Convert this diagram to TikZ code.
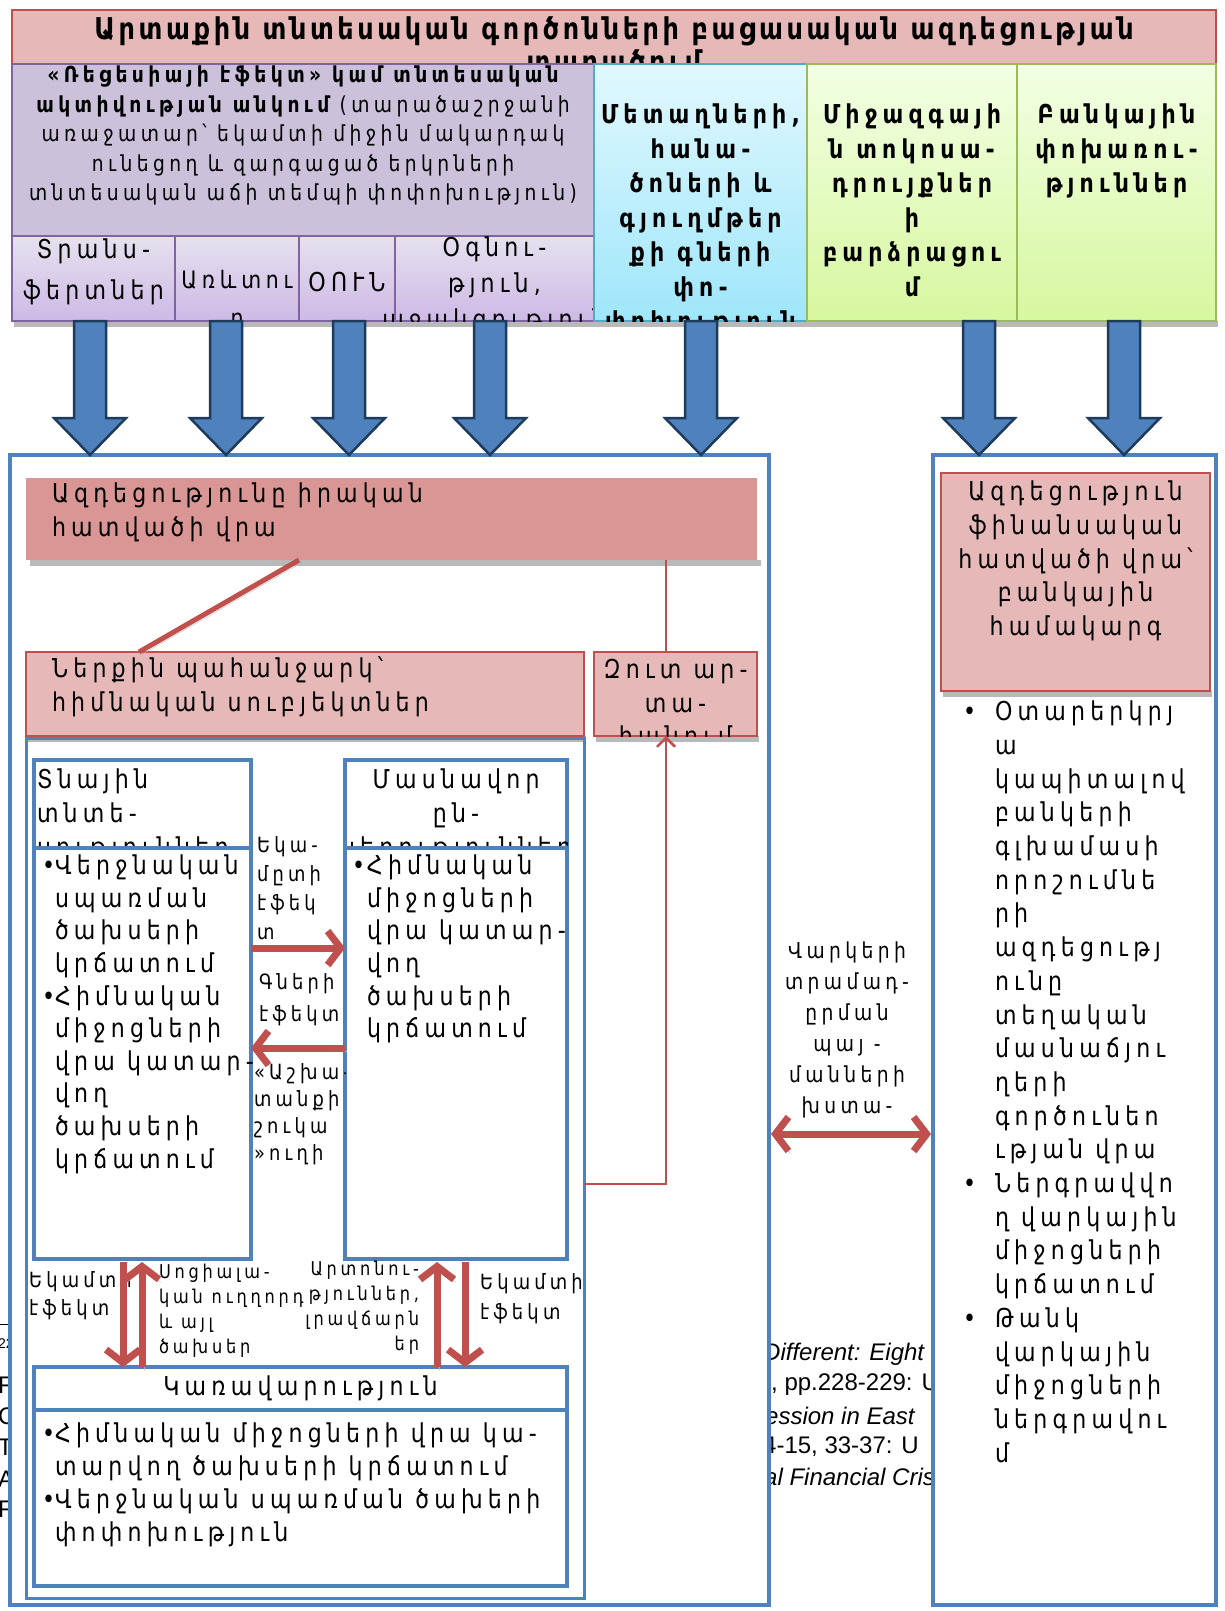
\documentclass[tikz,border=0pt]{standalone}
\usepackage{fontspec}
\setmainfont{DejaVu Sans}[FakeStretch=0.85,LetterSpace=20]
\newfontfamily\titlefont{DejaVu Sans}[FakeStretch=0.85,LetterSpace=12]
\newfontfamily\reffont{Liberation Sans}
\usetikzlibrary{arrows.meta,calc,positioning}
\definecolor{pinkfill}{HTML}{E6B9B8}
\definecolor{darkred}{HTML}{C0504D}
\definecolor{salmon}{HTML}{D99694}
\definecolor{lilac}{HTML}{CCC1DA}
\definecolor{lilacline}{HTML}{8064A2}
\definecolor{lilactop}{HTML}{E6E1EE}
\definecolor{lilacbot}{HTML}{CDB9E6}
\definecolor{cyantop}{HTML}{E1F8FE}
\definecolor{cyanbot}{HTML}{9FE6FA}
\definecolor{cyanline}{HTML}{4BACC6}
\definecolor{greentop}{HTML}{F2FFE4}
\definecolor{greenbot}{HTML}{D7F79F}
\definecolor{greenline}{HTML}{9BBB59}
\definecolor{boxblue}{HTML}{4F81BD}
\definecolor{navy}{HTML}{1F3B5C}
\newcommand{\itm}[1]{\llap{\makebox[#1][l]{•}}}

\begin{document}
\begin{tikzpicture}[x=1pt,y=-1pt,
  cell/.style={anchor=north west,inner sep=0pt,outer sep=0pt},
  lilaccell/.style={cell,draw=lilacline,line width=1.5pt,top color=lilactop,bottom color=lilacbot},
  bluebox/.style={cell,draw=boxblue,line width=3.5pt,fill=white},
  txt/.style={inner sep=0pt,outer sep=0pt,font=\fontsize{26}{33.7}\selectfont},
  boldtxt/.style={txt,align=center,anchor=north,font=\bfseries\fontsize{26}{34.5}\selectfont},
  lbl/.style={inner sep=0pt,outer sep=0pt,align=left,anchor=north west},
  redarrow/.style={draw=darkred,line width=7pt,-{Straight Barb[length=13pt,width=34pt]},
    preaction={draw=gray!55,transform canvas={shift={(2pt,-3pt)}}}},
  redboth/.style={redarrow,{Straight Barb[length=13pt,width=34pt]}-{Straight Barb[length=13pt,width=34pt]}},
  redline/.style={draw=darkred,line width=5pt,preaction={draw=gray!55,transform canvas={shift={(2pt,-3pt)}}}},
  thinred/.style={draw=darkred,line width=2.5pt},
  bigarrow/.style={fill=boxblue,draw=navy,line width=2.5pt}]
\useasboundingbox (0,0) rectangle (1224,1611);

%TEXT SHOWING THROUGH AT THE EDGES
\begin{scope}
\clip (0,1300) rectangle (10,1530);
\draw[line width=1pt] (0,1324) -- (12,1324);
\node[anchor=west,inner sep=0pt,font=\reffont\fontsize{14}{14}\selectfont] (fn) at (-2,1344) {22};
\foreach \ch/\yy in {F/1385,C/1416,T/1447,A/1479,F/1509}
  \node[anchor=west,inner sep=0pt,font=\reffont\fontsize{24}{24}\selectfont] at (-2,\yy) {\ch};
\end{scope}
\begin{scope}
\clip (769,1320) rectangle (933,1500);
\node[anchor=west,inner sep=0pt,font=\reffont\itshape\fontsize{24}{24}\selectfont] (cite1) at (763,1354) {Different: Eight};
\node[anchor=west,inner sep=0pt,font=\reffont\fontsize{24}{24}\selectfont] (cite2) at (771,1385) {, pp.228-229: U};
\node[anchor=west,inner sep=0pt,font=\reffont\itshape\fontsize{24}{24}\selectfont] (cite3) at (765,1416) {ession in East};
\node[anchor=west,inner sep=0pt,font=\reffont\fontsize{24}{24}\selectfont] (cite4) at (763,1447) {4-15, 33-37: U};
\node[anchor=west,inner sep=0pt,font=\reffont\itshape\fontsize{24}{24}\selectfont] (cite5) at (764,1477) {al Financial Crisis};
\end{scope}

%TOP ROW
\fill[gray!55] (14,321) rectangle (1218,327);
\node[cell,draw=darkred,line width=1.5pt,fill=pinkfill,minimum width=1204pt,minimum height=54pt] (title) at (12,10) {};
\begin{scope}
\clip (title.north west) rectangle (title.south east);
\node[anchor=north,align=center,inner sep=0pt,font=\titlefont\bfseries\fontsize{30}{33}\selectfont] (titletext)
  at ([yshift=-7pt]title.north) {Արտաքին տնտեսական գործոնների բացասական ազդեցության\\ տարածում};
\end{scope}
\node[cell,draw=lilacline,line width=1.5pt,fill=lilac,minimum width=582pt,minimum height=172pt] (recess) at (12,64) {};
\node[txt,align=center,anchor=north,font=\fontsize{22}{29.5}\selectfont] (recesstext) at ([yshift=-2pt]recess.north)
  {{\bfseries «Ռեցեսիայի էֆեկտ» կամ տնտեսական}\\ {\bfseries ակտիվության անկում} (տարածաշրջանի\\
   առաջատար՝ եկամտի միջին մակարդակ\\ ունեցող և զարգացած երկրների\\ տնտեսական աճի տեմպի փոփոխություն)};
\node[lilaccell,minimum width=163pt,minimum height=85pt] (transfer) at (12,236) {};
\node[lilaccell,minimum width=124pt,minimum height=85pt] (trade) at (175,236) {};
\node[lilaccell,minimum width=96pt,minimum height=85pt] (fdi) at (299,236) {};
\node[lilaccell,minimum width=199pt,minimum height=85pt] (aid) at (395,236) {};
\begin{scope}
\clip (transfer.north west) rectangle (aid.south east);
\node[txt,align=center,anchor=north,font=\fontsize{26}{41}\selectfont] (transfertext) at ([yshift=-3pt]transfer.north) {Տրանս-\\ ֆերտներ};
\node[txt,align=center,anchor=north,font=\fontsize{24}{38}\selectfont] (tradetext) at ([yshift=-34pt]trade.north) {Առևտու\\ ր};
\node[txt,align=center,anchor=north] (fditext) at ([yshift=-36pt]fdi.north) {ՕՈՒՆ};
\node[txt,align=center,anchor=north,font=\fontsize{26}{36}\selectfont] (aidtext) at ([yshift=-1pt]aid.north) {Օգնու-\\ թյուն,\\ աջակցություն};
\end{scope}
\node[cell,draw=cyanline,line width=1.5pt,top color=cyantop,bottom color=cyanbot,minimum width=213pt,minimum height=257pt] (metals) at (594,64) {};
\node[cell,draw=greenline,line width=1.5pt,top color=greentop,bottom color=greenbot,minimum width=210pt,minimum height=257pt] (rates) at (807,64) {};
\node[cell,draw=greenline,line width=1.5pt,top color=greentop,bottom color=greenbot,minimum width=199pt,minimum height=257pt] (loans) at (1017,64) {};
\begin{scope}
\clip (metals.north west) rectangle (loans.south east);
\node[boldtxt] (metalstext) at ([yshift=-40pt]metals.north) {Մետաղների,\\ հանա-\\ ծոների և\\ գյուղմթեր\\ քի գների\\ փո-\\ փոխություն};
\node[boldtxt] (ratestext) at ([yshift=-40pt]rates.north) {Միջազգայի\\ ն տոկոսա-\\ դրույքներ\\ ի\\ բարձրացու\\ մ};
\node[boldtxt] (loanstext) at ([yshift=-40pt]loans.north) {Բանկային\\ փոխառու-\\ թյուններ};
\end{scope}

%BIG BOXES
\node[bluebox,minimum width=759pt,minimum height=1150pt] (leftbig) at (10,455) {};
\node[bluebox,minimum width=283pt,minimum height=1150pt] (rightbig) at (933,455) {};

%REAL SECTOR
\fill[gray!55] (30,560) rectangle (761,566);
\node[cell,fill=salmon,minimum width=731pt,minimum height=82pt] (real) at (26,478) {};
\node[txt,align=left,anchor=north west] (realtext) at ([xshift=26pt,yshift=-5pt]real.north west) {Ազդեցությունը իրական\\ հատվածի վրա};

%DOMESTIC DEMAND AND NET EXPORT
\fill[gray!55] (28,736) rectangle (586,742);
\node[cell,draw=darkred,line width=1.5pt,fill=pinkfill,minimum width=558pt,minimum height=84pt] (demand) at (26,652) {};
\node[txt,align=left,anchor=north west] (demandtext) at ([xshift=26pt,yshift=-5pt]demand.north west) {Ներքին պահանջարկ՝\\ հիմնական սուբյեկտներ};
\fill[gray!55] (596,736) rectangle (759,742);
\node[cell,draw=darkred,line width=1.5pt,fill=pinkfill,minimum width=163pt,minimum height=84pt] (netexp) at (594,652) {};
\begin{scope}
\clip (netexp.north west) rectangle (netexp.south east);
\node[txt,align=center,anchor=north] (netexptext) at ([yshift=-7pt]netexp.north) {Զուտ ար-\\ տա-\\ հանում};
\end{scope}
\node[cell,draw=boxblue,line width=3pt,minimum width=558pt,minimum height=860pt] (inner) at (26,738) {};

%HOUSEHOLDS
\node[bluebox,minimum width=217pt,minimum height=88pt] (hhhead) at (34,760) {};
\begin{scope}
\clip (hhhead.north west) rectangle (hhhead.south east);
\node[txt,align=left,anchor=north west] (hhheadtext) at ([xshift=3pt,yshift=-9pt]hhhead.north west) {Տնային\\ տնտե-\\ սություններ};
\end{scope}
\node[bluebox,minimum width=217pt,minimum height=411pt] (hhbody) at (34,848) {};
\node[txt,align=left,anchor=north west,font=\fontsize{26}{32.6}\selectfont] (hhlist) at ([xshift=21pt,yshift=-7pt]hhbody.north west)
  {\itm{13pt}Վերջնական\\ սպառման\\ ծախսերի\\ կրճատում\\ \itm{13pt}Հիմնական\\ միջոցների\\ վրա կատար-\\ վող\\ ծախսերի\\ կրճատում};

%FIRMS
\node[bluebox,minimum width=222pt,minimum height=88pt] (firmhead) at (345,760) {};
\begin{scope}
\clip (firmhead.north west) rectangle (firmhead.south east);
\node[txt,align=center,anchor=north] (firmheadtext) at ([yshift=-9pt]firmhead.north) {Մասնավոր\\ ըն-\\ կերություններ};
\end{scope}
\node[bluebox,minimum width=222pt,minimum height=411pt] (firmbody) at (345,848) {};
\node[txt,align=left,anchor=north west,font=\fontsize{26}{32.6}\selectfont] (firmlist) at ([xshift=22pt,yshift=-7pt]firmbody.north west)
  {\itm{15pt}Հիմնական\\ միջոցների\\ վրա կատար-\\ վող\\ ծախսերի\\ կրճատում};

%GOVERNMENT
\node[bluebox,minimum width=533pt,minimum height=43pt] (govhead) at (34,1367) {};
\node[txt] (govtext) at (govhead.center) {Կառավարություն};
\node[bluebox,minimum width=533pt,minimum height=176pt] (govbody) at (34,1410) {};
\node[txt,align=left,anchor=north west,font=\fontsize{26}{33}\selectfont] (govlist) at ([xshift=21pt,yshift=-13pt]govbody.north west)
  {\itm{13pt}Հիմնական միջոցների վրա կա-\\ տարվող ծախսերի կրճատում\\ \itm{13pt}Վերջնական սպառման ծախերի\\ փոփոխություն};

%FINANCIAL SECTOR
\fill[gray!55] (943,691) rectangle (1212,697);
\node[cell,draw=darkred,line width=1.5pt,fill=pinkfill,minimum width=269pt,minimum height=218pt] (finance) at (941,473) {};
\node[txt,align=center,anchor=north] (financetext) at ([yshift=-8pt]finance.north)
  {Ազդեցություն\\ ֆինանսական\\ հատվածի վրա՝\\ բանկային\\ համակարգ};
\node[txt,align=left,anchor=north west] (banklist) at (995,701)
  {\itm{32pt}Օտարերկրյ\\ ա\\ կապիտալով\\ բանկերի\\ գլխամասի\\ որոշումնե\\ րի\\ ազդեցությ\\ ունը\\ տեղական\\ մասնաճյու\\ ղերի\\ գործունեո\\ ւթյան վրա\\
   \itm{32pt}Ներգրավվո\\ ղ վարկային\\ միջոցների\\ կրճատում\\
   \itm{32pt}Թանկ\\ վարկային\\ միջոցների\\ ներգրավու\\ մ};

%LABELS BETWEEN BOXES
\begin{scope}
\clip (hhhead.north east) rectangle (firmbody.south west);
\node[lbl,font=\fontsize{21}{29}\selectfont] (incomelbl) at (257,837) {Եկա-\\ մըտի\\ էֆեկ\\ տ};
\node[lbl,font=\fontsize{21}{32}\selectfont] (pricelbl) at (259,974) {Գների\\ էֆեկտ};
\node[lbl,font=\fontsize{21}{27}\selectfont] (labourlbl) at (254,1064) {«Աշխա-\\ տանքի\\ շուկա\\ »ուղի};
\end{scope}
\node[lbl,font=\fontsize{21}{28}\selectfont] (hhincome) at (29,1272) {Եկամտի\\ էֆեկտ};
\node[lbl,font=\fontsize{19}{25}\selectfont] (social) at (159,1264) {Սոցիալա-\\ կան ուղղորդ\\ և այլ\\ ծախսեր};
\node[lbl,align=right,anchor=north east,font=\fontsize{19}{25}\selectfont] (benefit) at (419,1261) {Արտոնու-\\ թյուններ,\\ լրավճարն\\ եր};
\node[lbl,font=\fontsize{21}{30}\selectfont] (firmincome) at (480,1274) {Եկամտի\\ էֆեկտ};
\node[lbl,align=center,anchor=north,font=\fontsize{22}{31}\selectfont] (credit) at (847,942) {Վարկերի\\ տրամադ-\\ ըրման\\ պայ -\\ մանների\\ խստա-};

%RED CONNECTORS
\draw[redline] ($(real.south west)+(273,0)$) -- ($(demand.north west)+(113,0)$);
\draw[thinred] ($(real.south west)+(640,0)$) -- ($(netexp.north west)+(72,0)$);
\draw[thinred,-{Straight Barb[length=9pt,width=18pt]}] ($(inner.north east)+(0,446)$) -| ($(netexp.south west)+(72,0)$);
\draw[redarrow] ($(hhbody.north east)+(0,100)$) -- ($(firmbody.north west)+(0,100)$);
\draw[redarrow] ($(firmbody.north west)+(0,200)$) -- ($(hhbody.north east)+(0,200)$);
\draw[redarrow] ($(hhbody.south west)+(89,3)$) -- ($(govhead.north west)+(89,0)$);
\draw[redarrow] ($(govhead.north west)+(108,0)$) -- ($(hhbody.south west)+(108,3)$);
\draw[redarrow] ($(govhead.north west)+(403,0)$) -- ($(firmbody.south west)+(92,3)$);
\draw[redarrow] ($(firmbody.south west)+(120,3)$) -- ($(govhead.north west)+(431,0)$);
\draw[redboth] ($(leftbig.north east)+(2,679)$) -- ($(rightbig.north west)+(-2,679)$);

%BLUE BLOCK ARROWS
\foreach \ax in {90,226,349,490,701,979,1124}
  \draw[bigarrow] (\ax-16,321) -- (\ax+16,321) -- (\ax+16,418) -- (\ax+36,418) -- (\ax,455)
    -- (\ax-36,418) -- (\ax-16,418) -- cycle;
\end{tikzpicture}
\end{document}
